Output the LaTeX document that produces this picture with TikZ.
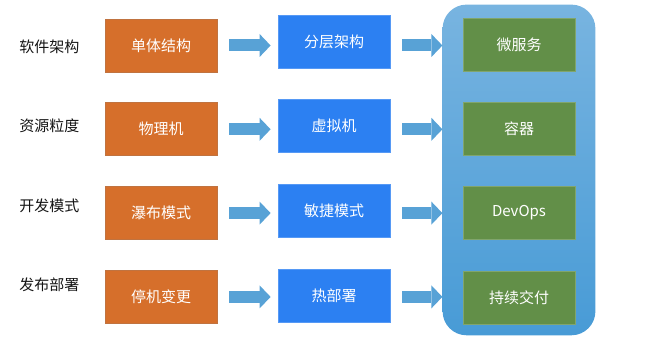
\documentclass[tikz,border=0pt]{standalone}
\usepackage{fontspec}
\setmainfont{Noto Sans CJK SC}
\usepackage{tikz}
\usetikzlibrary{arrows.meta,positioning,fit,backgrounds}
\usepackage{xcolor}
\definecolor{ink}{RGB}{20,20,20}
\definecolor{old}{RGB}{214,111,43}
\definecolor{mid}{RGB}{44,128,242}
\definecolor{new}{RGB}{98,143,72}
\definecolor{arrc}{RGB}{88,162,214}
\definecolor{pantop}{RGB}{120,180,224}
\definecolor{panbot}{RGB}{72,155,214}
\tikzset{
  box/.style={minimum width=112pt,minimum height=53pt,inner sep=0pt,
    text=white,font=\fontsize{15}{18}\selectfont,line width=0.8pt},
  oldbox/.style={box,fill=old,draw=old!75!gray},
  midbox/.style={box,fill=mid,draw=mid!80!white},
  newbox/.style={box,fill=new,draw=new!80!white},
  lbl/.style={text=ink,font=\fontsize{15}{18}\selectfont,inner sep=0pt},
  fat/.style={line width=12pt,draw=arrc,
    -{Triangle[width=23pt,length=11pt,line width=0pt,fill=arrc]}},
}

\begin{document}
\begin{tikzpicture}[x=1pt,y=-1pt]
\useasboundingbox (0,0) rectangle (645,339);
% ---- column 1 : traditional ----
\node[oldbox] (o1) at (161,45.5) {单体结构};
\node[oldbox,below=30pt of o1] (o2) {物理机};
\node[oldbox,below=30pt of o2] (o3) {瀑布模式};
\node[oldbox,below=30pt of o3] (o4) {停机变更};

% ---- row labels ----
\node[lbl,left=25pt of o1,yshift=-1.5pt] (l1) {软件架构};
\node[lbl,left=25pt of o2,yshift=3.5pt] (l2) {资源粒度};
\node[lbl,left=25pt of o3,yshift=7pt] (l3) {开发模式};
\node[lbl,left=25pt of o4,yshift=12pt] (l4) {发布部署};

% ---- column 2 : transition ----
\node[midbox] (b1) at (334,41.5) {分层架构};
\node[midbox,below=31pt of b1] (b2) {虚拟机};
\node[midbox,below=31pt of b2] (b3) {敏捷模式};
\node[midbox,below=31pt of b3] (b4) {热部署};

% ---- column 3 : cloud native ----
\node[newbox] (g1) at (519,44.5) {微服务};
\node[newbox,below=30.5pt of g1] (g2) {容器};
\node[newbox,below=30.5pt of g2] (g3) {DevOps};
\node[newbox,below=30.5pt of g3] (g4) {持续交付};

\begin{scope}[on background layer]
\node[fit=(g1)(g4),inner xsep=20pt,inner ysep=12pt,yshift=1pt,
  rounded corners=24pt,top color=pantop,bottom color=panbot] (pan) {};
\end{scope}

\foreach \i in {1,...,4}{
  \draw[fat,shorten <=12pt,shorten >=7pt] (o\i.east) -- (o\i.east -| b\i.west);
  \draw[fat,shorten <=12pt] (b\i.east |- o\i) -- (pan.west |- o\i);
}
\end{tikzpicture}
\end{document}
